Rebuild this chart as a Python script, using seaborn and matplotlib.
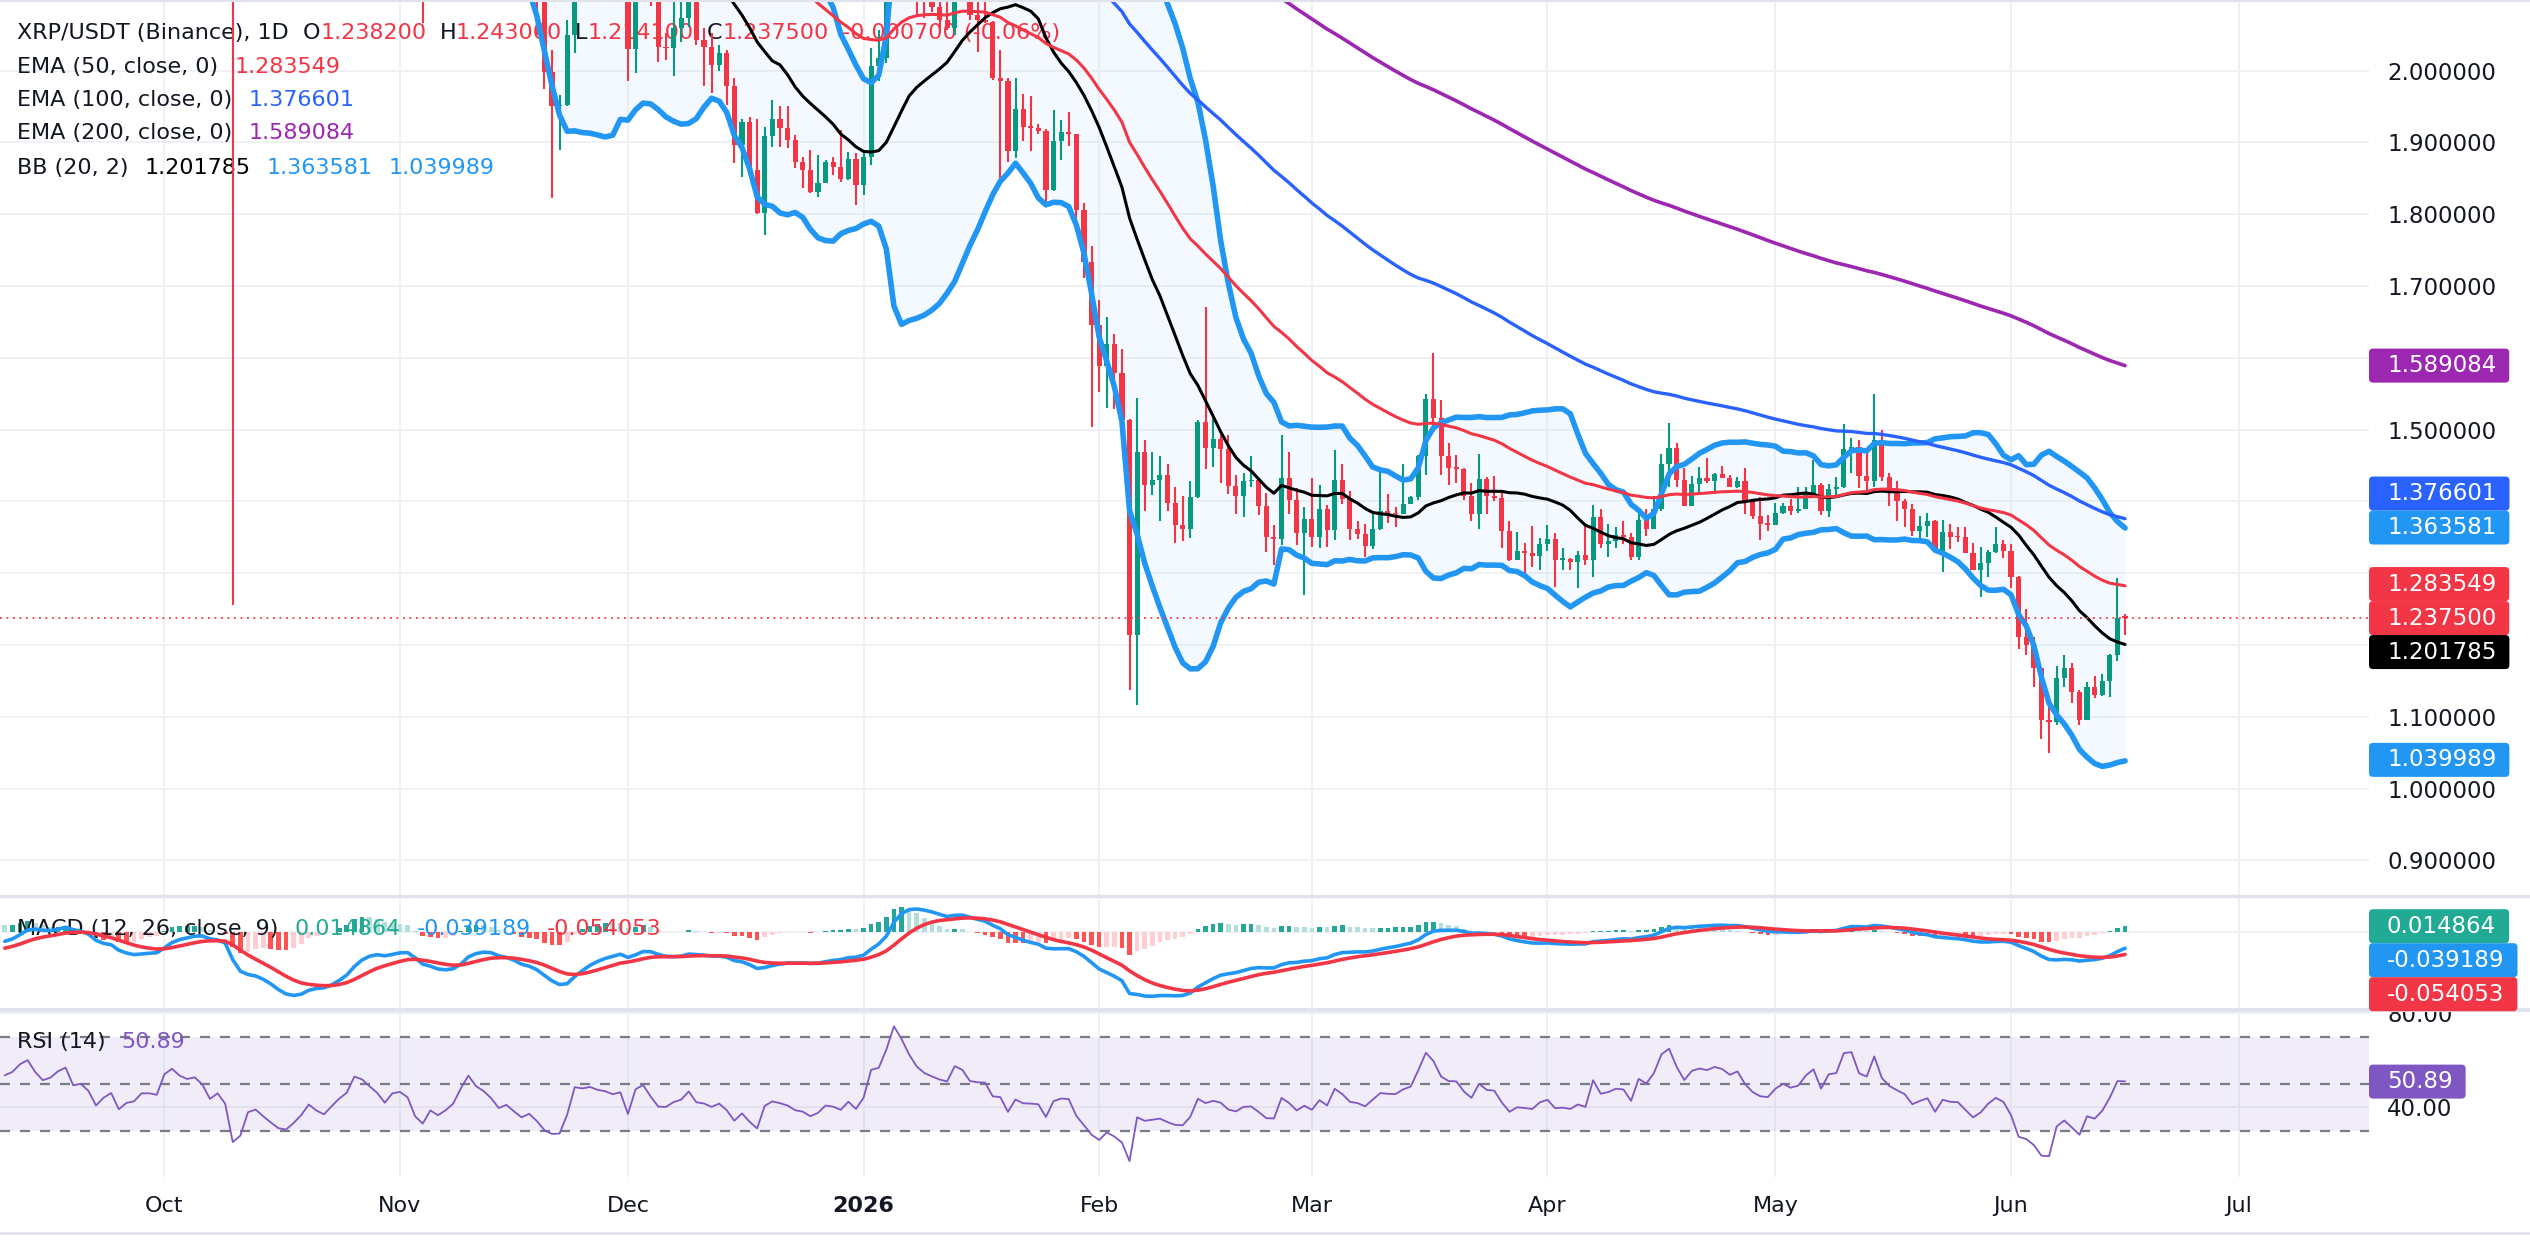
import numpy as np
import pandas as pd
import matplotlib
matplotlib.use("Agg")
import matplotlib.pyplot as plt
import matplotlib.dates as mdates
from matplotlib.transforms import IdentityTransform
from matplotlib.patches import FancyBboxPatch
from matplotlib.lines import Line2D
import seaborn as sns

sns.set_style("white")
plt.rcParams['font.family'] = ['DejaVu Sans']

# ---------------- data (daily XRP/USDT) ----------------
start_date = "2025-09-10"
first_open = 2.98

close_sep = [3.00,3.03,3.10,3.14,3.06,3.00,3.02,3.07,3.10,2.98,2.99,2.94,2.82,2.87,2.90,2.76,2.80,2.81,2.86,2.86,2.85]
high_sep  = [3.04,3.06,3.13,3.18,3.16,3.08,3.05,3.10,3.13,3.11,3.01,3.00,2.95,2.90,2.94,2.92,2.82,2.84,2.88,2.90,2.89]
low_sep   = [2.96,2.98,3.01,3.07,3.04,2.96,2.98,3.00,3.05,2.96,2.96,2.92,2.78,2.80,2.85,2.70,2.70,2.77,2.79,2.82,2.81]

close_oct = [2.98,3.02,2.98,2.96,2.97,2.93,2.84,2.87,2.80,2.36,2.40,2.56,2.58,2.50,2.42,2.34,2.32,2.36,2.41,2.48,2.42,2.38,2.43,2.48,2.52,2.64,2.62,2.57,2.52,2.44,2.50]
high_oct  = [3.01,3.07,3.05,3.00,3.02,3.00,2.95,2.90,2.88,2.84,2.45,2.58,2.66,2.64,2.54,2.44,2.38,2.40,2.45,2.52,2.52,2.44,2.46,2.50,2.54,2.66,2.68,2.66,2.62,2.55,2.53]
low_oct   = [2.82,2.96,2.95,2.92,2.93,2.90,2.82,2.81,2.76,1.255,2.30,2.38,2.52,2.42,2.38,2.30,2.18,2.30,2.34,2.39,2.38,2.32,2.35,2.40,2.46,2.50,2.58,2.55,2.48,2.38,2.43]

close_nov = [2.51,2.47,2.30,2.22,2.30,2.25,2.28,2.32,2.42,2.52,2.44,2.40,2.34,2.25,2.27,2.21,2.15,2.17,2.10,1.998,1.950,1.952,2.049,2.23,2.22,2.23,2.21,2.20,2.18,2.19]
high_nov  = [2.54,2.53,2.48,2.32,2.34,2.33,2.33,2.36,2.44,2.58,2.55,2.48,2.45,2.36,2.30,2.30,2.25,2.22,2.20,2.12,2.029,1.966,2.07,2.25,2.28,2.26,2.25,2.24,2.22,2.23]
low_nov   = [2.47,2.44,2.26,2.066,2.18,2.20,2.17,2.26,2.30,2.40,2.40,2.35,2.28,2.18,2.22,2.19,2.12,2.10,2.05,1.975,1.822,1.889,1.95,2.024,2.16,2.17,2.17,2.16,2.15,2.16]

close_dec = [2.030,2.18,2.21,2.12,2.033,2.031,2.059,2.073,2.12,2.042,2.033,2.008,2.024,1.978,1.896,1.929,1.861,1.801,1.909,1.933,1.920,1.904,1.872,1.862,1.831,1.844,1.872,1.866,1.849,1.877,1.841]
high_dec  = [2.20,2.20,2.24,2.22,2.13,2.052,2.12,2.12,2.16,2.14,2.059,2.052,2.036,2.029,1.99,1.933,1.936,1.933,1.922,1.959,1.950,1.950,1.910,1.880,1.889,1.882,1.876,1.880,1.917,1.886,1.885]
low_dec   = [1.985,1.996,2.14,2.09,2.012,2.015,1.992,2.04,2.06,2.035,1.979,1.969,2.00,1.952,1.871,1.852,1.855,1.80,1.771,1.894,1.894,1.892,1.864,1.836,1.829,1.824,1.843,1.855,1.845,1.848,1.813]

close_jan = [1.880,2.006,2.017,2.13,2.36,2.30,2.22,2.15,2.11,2.089,2.070,2.059,2.16,2.14,2.077,2.07,2.068,1.990,1.985,1.888,1.947,1.922,1.920,1.916,1.834,1.902,1.914,1.911,1.806,1.734,1.646]
high_jan  = [1.885,2.031,2.056,2.14,2.38,2.41,2.32,2.24,2.17,2.13,2.11,2.10,2.18,2.19,2.15,2.10,2.10,2.069,2.029,1.990,1.990,1.967,1.965,1.926,1.918,1.945,1.931,1.942,1.911,1.816,1.755]
low_jan   = [1.827,1.868,1.985,2.01,2.10,2.26,2.18,2.075,2.073,2.082,2.054,2.056,2.05,2.10,2.07,2.026,2.066,1.987,1.849,1.872,1.878,1.902,1.888,1.911,1.812,1.832,1.875,1.895,1.780,1.711,1.504]

close_feb = [1.589,1.619,1.579,1.514,1.214,1.469,1.423,1.430,1.437,1.398,1.367,1.362,1.406,1.510,1.474,1.487,1.473,1.421,1.407,1.428,1.430,1.393,1.350,1.348,1.432,1.402,1.356,1.375]
high_feb  = [1.681,1.657,1.633,1.612,1.515,1.544,1.486,1.469,1.463,1.452,1.420,1.408,1.428,1.513,1.671,1.516,1.495,1.492,1.437,1.439,1.463,1.432,1.411,1.367,1.492,1.469,1.418,1.392]
low_feb   = [1.553,1.530,1.528,1.495,1.138,1.117,1.386,1.409,1.373,1.386,1.342,1.345,1.349,1.405,1.445,1.448,1.426,1.410,1.382,1.378,1.420,1.381,1.330,1.311,1.339,1.383,1.339,1.270]

close_mar = [1.351,1.389,1.360,1.430,1.403,1.362,1.355,1.338,1.362,1.386,1.383,1.382,1.397,1.406,1.463,1.542,1.516,1.463,1.446,1.445,1.408,1.383,1.431,1.408,1.405,1.359,1.318,1.331,1.328,1.324,1.341]
high_mar  = [1.432,1.423,1.395,1.472,1.452,1.414,1.373,1.369,1.383,1.441,1.410,1.392,1.452,1.408,1.465,1.550,1.607,1.541,1.481,1.465,1.446,1.425,1.466,1.434,1.435,1.415,1.372,1.358,1.342,1.366,1.349]
low_mar   = [1.337,1.335,1.337,1.346,1.396,1.346,1.347,1.322,1.333,1.360,1.370,1.365,1.382,1.396,1.402,1.437,1.496,1.437,1.423,1.426,1.402,1.372,1.362,1.383,1.401,1.335,1.317,1.321,1.295,1.309,1.304]

close_apr = [1.347,1.319,1.320,1.316,1.325,1.318,1.378,1.341,1.345,1.353,1.351,1.322,1.374,1.362,1.390,1.452,1.474,1.430,1.393,1.424,1.432,1.428,1.438,1.433,1.420,1.429,1.400,1.380,1.369,1.367]
high_apr  = [1.367,1.356,1.335,1.321,1.331,1.370,1.395,1.389,1.369,1.364,1.373,1.356,1.382,1.389,1.408,1.466,1.509,1.481,1.446,1.435,1.448,1.461,1.440,1.449,1.437,1.434,1.446,1.402,1.406,1.381]
low_apr   = [1.331,1.281,1.304,1.305,1.279,1.311,1.295,1.335,1.322,1.335,1.341,1.318,1.319,1.352,1.362,1.386,1.420,1.420,1.393,1.393,1.410,1.426,1.410,1.432,1.420,1.418,1.383,1.376,1.346,1.359]

close_may = [1.384,1.394,1.386,1.390,1.410,1.423,1.386,1.417,1.420,1.473,1.476,1.435,1.428,1.485,1.434,1.412,1.400,1.389,1.359,1.366,1.372,1.331,1.357,1.351,1.350,1.328,1.305,1.314,1.330,1.341,1.331]
high_may  = [1.398,1.398,1.403,1.420,1.420,1.457,1.425,1.424,1.434,1.508,1.488,1.485,1.467,1.550,1.499,1.439,1.428,1.403,1.396,1.379,1.384,1.374,1.374,1.369,1.364,1.364,1.342,1.337,1.332,1.365,1.346]
low_may   = [1.367,1.383,1.381,1.384,1.390,1.409,1.381,1.378,1.407,1.418,1.440,1.418,1.416,1.420,1.428,1.394,1.372,1.364,1.352,1.347,1.351,1.330,1.302,1.333,1.343,1.328,1.304,1.267,1.294,1.328,1.321]

close_jun = [1.295,1.211,1.200,1.168,1.096,1.093,1.154,1.168,1.135,1.096,1.141,1.130,1.150,1.186,1.2382,1.2375]
high_jun  = [1.341,1.296,1.250,1.211,1.169,1.114,1.171,1.186,1.175,1.137,1.149,1.157,1.160,1.188,1.293,1.2430]
low_jun   = [1.279,1.195,1.186,1.142,1.069,1.050,1.089,1.142,1.119,1.089,1.096,1.126,1.129,1.127,1.178,1.2141]

# values printed in the legend / price scale
ema_last = [1.283549, 1.376601, 1.589084]          # EMA 50, 100, 200
bb_last = [1.201785, 1.363581, 1.039989]            # basis, upper, lower
macd_last = [0.014864, -0.039189, -0.054053]        # histogram, macd, signal
rsi_last = 50.89
# indicator state at the left edge
ema50_start, ema100_start = 2.95, 2.80
macd_start, signal_start = -0.026, -0.043
rsi_gain_start, rsi_loss_start = 0.040, 0.036

month_ticks = ["2025-10-01", "2025-11-01", "2025-12-01", "2026-01-01", "2026-02-01",
               "2026-03-01", "2026-04-01", "2026-05-01", "2026-06-01", "2026-07-01"]
month_labels = ["Oct", "Nov", "Dec", "2026", "Feb", "Mar", "Apr", "May", "Jun", "Jul"]
main_ticks = [0.9, 1.0, 1.1, 1.2, 1.3, 1.4, 1.5, 1.6, 1.7, 1.8, 1.9, 2.0]
rsi_ticks = [40, 80]

# ---------------- assemble ----------------
closes = np.array(close_sep + close_oct + close_nov + close_dec + close_jan + close_feb +
                  close_mar + close_apr + close_may + close_jun)
highs = np.array(high_sep + high_oct + high_nov + high_dec + high_jan + high_feb +
                 high_mar + high_apr + high_may + high_jun)
lows = np.array(low_sep + low_oct + low_nov + low_dec + low_jan + low_feb +
                low_mar + low_apr + low_may + low_jun)
opens = np.concatenate([[first_open], closes[:-1]])
dates = pd.date_range(start_date, periods=len(closes), freq="D")


def ema(values, n, seed):
    a = 2.0 / (n + 1)
    out, e = [], seed
    for v in values:
        e = e + a * (v - e)
        out.append(e)
    return np.array(out)


ema50 = ema(closes, 50, ema50_start)
ema100 = ema(closes, 100, ema100_start)
# the 200 EMA carries long pre-chart history: anchor it on the printed last value
a200 = 2.0 / 201
base = ema(closes, 200, 0.0)[-1]
seed200 = (ema_last[2] - base) / (1 - a200) ** len(closes)
ema200 = ema(closes, 200, seed200)

s = pd.Series(closes)
bb_mid = s.rolling(20).mean().values
bb_sd = s.rolling(20).std(ddof=0).values
bb_up = bb_mid + 2 * bb_sd
bb_lo = bb_mid - 2 * bb_sd

e26 = ema(closes, 26, closes[0])
e12 = ema(closes, 12, closes[0] + macd_start)
macd = e12 - e26
signal = ema(macd, 9, signal_start)
hist = macd - signal

ag, al = rsi_gain_start, rsi_loss_start
rsi = []
prev = first_open
for c in closes:
    ch = c - prev
    prev = c
    ag = (ag * 13 + max(ch, 0)) / 14
    al = (al * 13 + max(-ch, 0)) / 14
    rsi.append(100 - 100 / (1 + ag / al))
rsi = np.array(rsi)

df = pd.DataFrame({"date": dates, "ema50": ema50, "ema100": ema100, "ema200": ema200,
                   "bb_mid": bb_mid, "bb_up": bb_up, "bb_lo": bb_lo,
                   "macd": macd, "signal": signal, "rsi": rsi})

# ---------------- figure ----------------
W, H = 2530, 1253
fig = plt.figure(figsize=(W / 100, H / 100), dpi=100)
fig.patch.set_facecolor("white")
PLOT_R = 2369
TICK_FS = 16.5
LEG_FS = 16


def rect(top, bottom):
    return [0, 1 - bottom / H, PLOT_R / W, (bottom - top) / H]


ax = fig.add_axes(rect(0, 896))
axm = fig.add_axes(rect(896, 1010), sharex=ax)
axr = fig.add_axes(rect(1010, 1177), sharex=ax)

UP, DOWN = "#089981", "#F23645"
GRID = "#EFF1F5"
TXT = "#131722"

oct1 = mdates.date2num(pd.Timestamp("2025-10-01"))
xlim = (oct1 - 21.63, oct1 + 290.1)
month_x = [pd.Timestamp(m) for m in month_ticks]

for a in (ax, axm, axr):
    for sp in a.spines.values():
        sp.set_visible(False)
    a.set_facecolor("white")
    a.set_xticks(month_x)
    a.grid(True, axis="x", color=GRID, lw=1.4, zorder=0)
    a.tick_params(axis="both", length=0)

# --- candles
cols = np.where(closes >= opens, UP, DOWN)
hi = np.maximum(highs, np.maximum(opens, closes))
lo = np.minimum(lows, np.minimum(opens, closes))
ax.vlines(dates, lo, hi, colors=cols, lw=1.5, zorder=3)
body = np.maximum(np.abs(closes - opens), 0.0022)
ax.bar(dates, body, bottom=np.minimum(opens, closes), width=0.68, color=cols, lw=0, zorder=4)

# --- bollinger + emas
ax.fill_between(dates, bb_lo, bb_up, color="#2196F3", alpha=0.05, lw=0, zorder=1)
sns.lineplot(data=df, x="date", y="bb_up", ax=ax, color="#2196F3", lw=4.0, zorder=5, legend=False)
sns.lineplot(data=df, x="date", y="bb_lo", ax=ax, color="#2196F3", lw=4.0, zorder=5, legend=False)
sns.lineplot(data=df, x="date", y="bb_mid", ax=ax, color="#000000", lw=2.2, zorder=5, legend=False)
sns.lineplot(data=df, x="date", y="ema50", ax=ax, color="#F23645", lw=2.2, zorder=5, legend=False)
sns.lineplot(data=df, x="date", y="ema100", ax=ax, color="#2962FF", lw=2.4, zorder=5, legend=False)
sns.lineplot(data=df, x="date", y="ema200", ax=ax, color="#9C27B0", lw=2.6, zorder=5, legend=False)
ax.axhline(closes[-1], color="#F23645", lw=1.3, ls=(0, (1, 2.6)), zorder=6)

ax.set_ylim(0.8504, 2.0983)
ax.set_yticks(main_ticks)
ax.yaxis.tick_right()
ax.set_yticklabels([f"{v:.6f}" for v in main_ticks])
ax.grid(True, axis="y", color=GRID, lw=1.4, zorder=0)
ax.tick_params(axis="y", pad=13, labelsize=TICK_FS, labelcolor=TXT)
ax.tick_params(axis="x", labelbottom=False)
ax.set_xlabel("")
ax.set_ylabel("")

# --- MACD
hcols = []
for i, h in enumerate(hist):
    p = hist[i - 1] if i > 0 else h
    if h >= 0:
        hcols.append("#26A69A" if h > p else "#B2DFDB")
    else:
        hcols.append("#FF5252" if h < p else "#FFCDD2")
axm.bar(dates, hist, width=0.62, color=hcols, lw=0, zorder=2)
sns.lineplot(data=df, x="date", y="macd", ax=axm, color="#2196F3", lw=2.6, zorder=4, legend=False)
sns.lineplot(data=df, x="date", y="signal", ax=axm, color="#F23645", lw=2.6, zorder=4, legend=False)
axm.set_ylim(-0.1895, 0.0885)
axm.set_yticks([0.0])
axm.grid(True, axis="y", color=GRID, lw=1.4, zorder=0)
axm.tick_params(axis="y", labelleft=False, labelright=False)
axm.tick_params(axis="x", labelbottom=False)
axm.set_xlabel("")
axm.set_ylabel("")

# --- RSI
axr.axhspan(30, 70, color="#7E57C2", alpha=0.10, lw=0, zorder=1)
for lvl in (70, 50, 30):
    axr.axhline(lvl, color="#787B86", lw=1.6, ls=(0, (4.5, 4.5)), zorder=2)
sns.lineplot(data=df, x="date", y="rsi", ax=axr, color="#7E57C2", lw=1.3, zorder=4, legend=False)
axr.set_ylim(10.3, 81.36)
axr.set_yticks(rsi_ticks)
axr.yaxis.tick_right()
axr.set_yticklabels([f"{v:.2f}" for v in rsi_ticks])
axr.grid(True, axis="y", color=GRID, lw=1.4, zorder=0)
axr.tick_params(axis="y", pad=13, labelsize=TICK_FS, labelcolor=TXT)
axr.set_xticks(month_x)
axr.set_xticklabels(month_labels)
axr.tick_params(axis="x", pad=14, labelsize=16, labelcolor=TXT)
for t in axr.get_xticklabels():
    if t.get_text() == "2026":
        t.set_fontweight("bold")
axr.set_xlabel("")
axr.set_ylabel("")

for a in (ax, axm, axr):
    a.set_xlim(xlim)

# panel separators and frame
for yy, lw in ((896, 2.5), (1010, 3.0), (1233, 2.0), (1, 1.5)):
    fig.add_artist(Line2D([0, 1], [1 - yy / H, 1 - yy / H], transform=fig.transFigure,
                          color="#E0E3EB", lw=lw, zorder=1))

renderer = fig.canvas.get_renderer()


# --- legends (multi-colour text rows)
def row(axis, y_full, parts, size=LEG_FS):
    x = 17
    for txt, color, gap in parts:
        t = axis.text(x, H - y_full, txt, color=color, fontsize=size, transform=IdentityTransform(),
                      va="center", ha="left", zorder=2)
        bb = t.get_window_extent(renderer=renderer)
        x = bb.x1 + gap


chg = closes[-1] - closes[-2]
pct = chg / closes[-2] * 100
row(ax, 33, [("XRP/USDT (Binance), 1D", TXT, 14),
             ("O", TXT, 0), (f"{opens[-1]:.6f}", DOWN, 13),
             ("H", TXT, 0), (f"{highs[-1]:.6f}", DOWN, 13),
             ("L", TXT, 0), (f"{lows[-1]:.6f}", DOWN, 13),
             ("C", TXT, 0), (f"{closes[-1]:.6f}", DOWN, 13),
             (f"{chg:.6f} ({pct:.2f}%)", DOWN, 0)])
row(ax, 67, [("EMA (50, close, 0)", TXT, 16), (f"{ema_last[0]:.6f}", "#F23645", 0)])
row(ax, 100, [("EMA (100, close, 0)", TXT, 16), (f"{ema_last[1]:.6f}", "#2962FF", 0)])
row(ax, 133, [("EMA (200, close, 0)", TXT, 16), (f"{ema_last[2]:.6f}", "#9C27B0", 0)])
row(ax, 168, [("BB (20, 2)", TXT, 16), (f"{bb_last[0]:.6f}", "#000000", 16),
              (f"{bb_last[1]:.6f}", "#2196F3", 16), (f"{bb_last[2]:.6f}", "#2196F3", 0)])
row(axm, 929, [("MACD (12, 26, close, 9)", TXT, 16), (f"{macd_last[0]:.6f}", "#22AB94", 16),
               (f"{macd_last[1]:.6f}", "#2196F3", 16), (f"{macd_last[2]:.6f}", "#F23645", 0)])
row(axr, 1042, [("RSI (14)", TXT, 16), (f"{rsi_last:.2f}", "#7E57C2", 0)])


# --- price-scale value boxes (placed in priority order, stacked without overlap)
BOX_H = 34


def boxes(axis, items, fmt):
    placed = []
    for v, color in items:
        want = axis.transData.transform((xlim[0], v))[1]
        cands = [want] + [p + d for p in placed for d in (BOX_H, -BOX_H)]
        ok = [c for c in cands if all(abs(c - p) >= BOX_H - 0.01 for p in placed)]
        y = min(ok, key=lambda c: abs(c - want))
        placed.append(y)
        t = fig.text(PLOT_R + 18, y, fmt(v), color="white", fontsize=TICK_FS,
                     transform=IdentityTransform(), va="center", ha="left", zorder=7)
        tw = t.get_window_extent(renderer=renderer).width
        fig.add_artist(FancyBboxPatch((PLOT_R, y - BOX_H / 2), 18 + tw + 13, BOX_H,
                                      boxstyle="round,pad=0,rounding_size=4",
                                      transform=IdentityTransform(), facecolor=color,
                                      edgecolor="none", zorder=6))
    return placed


main_boxes = boxes(ax, [(closes[-1], "#F23645"), (bb_last[1], "#2196F3"), (bb_last[0], "#000000"),
                        (bb_last[2], "#2196F3"), (ema_last[0], "#F23645"), (ema_last[1], "#2962FF"),
                        (ema_last[2], "#9C27B0")], lambda v: f"{v:.6f}")
macd_boxes = boxes(axm, [(macd_last[0], "#22AB94"), (macd_last[1], "#2196F3"), (macd_last[2], "#F23645")],
                   lambda v: f"{v:.6f}")
rsi_boxes = boxes(axr, [(rsi_last, "#7E57C2")], lambda v: f"{v:.2f}")

# price-scale labels that sit under a value box are hidden, as on the chart
for axis, pl, ticks in ((ax, main_boxes, main_ticks), (axr, rsi_boxes + macd_boxes, rsi_ticks)):
    for lab, tv in zip(axis.get_yticklabels(), ticks):
        ty = axis.transData.transform((xlim[0], tv))[1]
        if any(abs(ty - p) < BOX_H / 2 for p in pl):
            lab.set_visible(False)

fig.savefig("out.png", dpi=100, facecolor="white")
